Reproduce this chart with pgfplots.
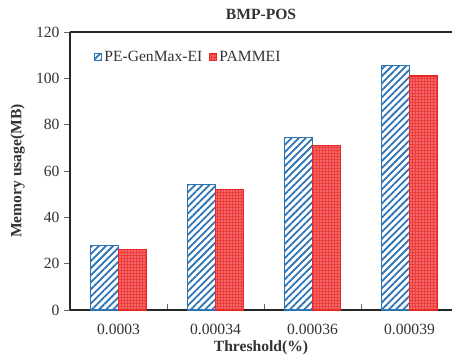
\documentclass[border=0pt]{standalone}
\usepackage{pgfplots}
\pgfplotsset{compat=1.18}
\usepackage{fontspec}
\setmainfont{Liberation Serif}
\usetikzlibrary{patterns.meta}
\definecolor{myblue}{RGB}{46,117,182}
\definecolor{myred}{RGB}{235,38,38}
\begin{document}
\begin{tikzpicture}[font=\fontsize{15.6bp}{18bp}\selectfont]
\begin{axis}[
  scale only axis, width=382bp, height=278bp,
  xmin=-0.5, xmax=3.438, ymin=0, ymax=120,
  axis x line*=box, axis y line*=left,
  axis line style={draw=black!85, line width=1.4bp},
  tick align=inside, major tick length=6bp,
  tick style={draw=black!60, line width=0.6bp},
  ytick={0,20,...,120}, ytick pos=left,
  ytick style={xshift=-6bp},
  xtick={0.5,1.5,2.5}, xticklabels={}, xtick pos=bottom,
  extra x ticks={0,1,2,3},
  extra x tick labels={0.0003,0.00034,0.00036,0.00039},
  extra x tick style={major tick length=0pt},
  /pgf/number format/assume math mode=true,
  tick label style={font=\fontsize{15.6bp}{18bp}\selectfont, text=black!80},
  yticklabel style={xshift=-7bp},
  xticklabel style={yshift=-11bp},
  every axis title shift=0pt,
  title={\textbf{BMP-POS}},
  title style={at={(axis description cs:0.5,1.065)}, anchor=center, font=\fontsize{15.6bp}{18bp}\selectfont, text=black!80},
  xlabel={\textbf{Threshold(\%)}},
  xlabel style={at={(axis description cs:0.5,-0.137)}, anchor=center, font=\fontsize{15.6bp}{18bp}\selectfont, text=black!80},
  ylabel={\textbf{Memory usage(MB)}},
  ylabel style={at={(axis description cs:-0.137,0.5)}, anchor=center, font=\fontsize{15.6bp}{18bp}\selectfont, text=black!80},
  legend style={draw=none, fill=none, at={(axis description cs:0.055,0.91)}, anchor=west,
    legend columns=2, font=\fontsize{15.6bp}{18bp}\selectfont, text=black!80,
    /tikz/every even column/.append style={column sep=5bp}},
  legend image code/.code={\draw[#1] (0bp,-3.5bp) rectangle (7bp,3.5bp);},
]
\addplot[ybar, bar width=0.29, bar shift=-0.145, draw=myblue, line width=1.2bp, fill=white,
  postaction={pattern={Lines[angle=45,distance=5bp,line width=1.8bp]}, pattern color=myblue}]
  coordinates {(0,28) (1,54) (2,74.5) (3,105.5)};
\addlegendentry{PE-GenMax-EI}
\addplot[ybar, bar width=0.29, bar shift=0.145, draw=myred, line width=1.2bp, fill=myred!90,
  postaction={pattern={Dots[distance=3bp,radius=0.55bp]}, pattern color=white}]
  coordinates {(0,26) (1,52) (2,71) (3,101)};
\addlegendentry{PAMMEI}
\end{axis}
\pgfresetboundingbox
\useasboundingbox (-70bp,-49bp) rectangle (382bp,310bp);
\end{tikzpicture}
\end{document}
